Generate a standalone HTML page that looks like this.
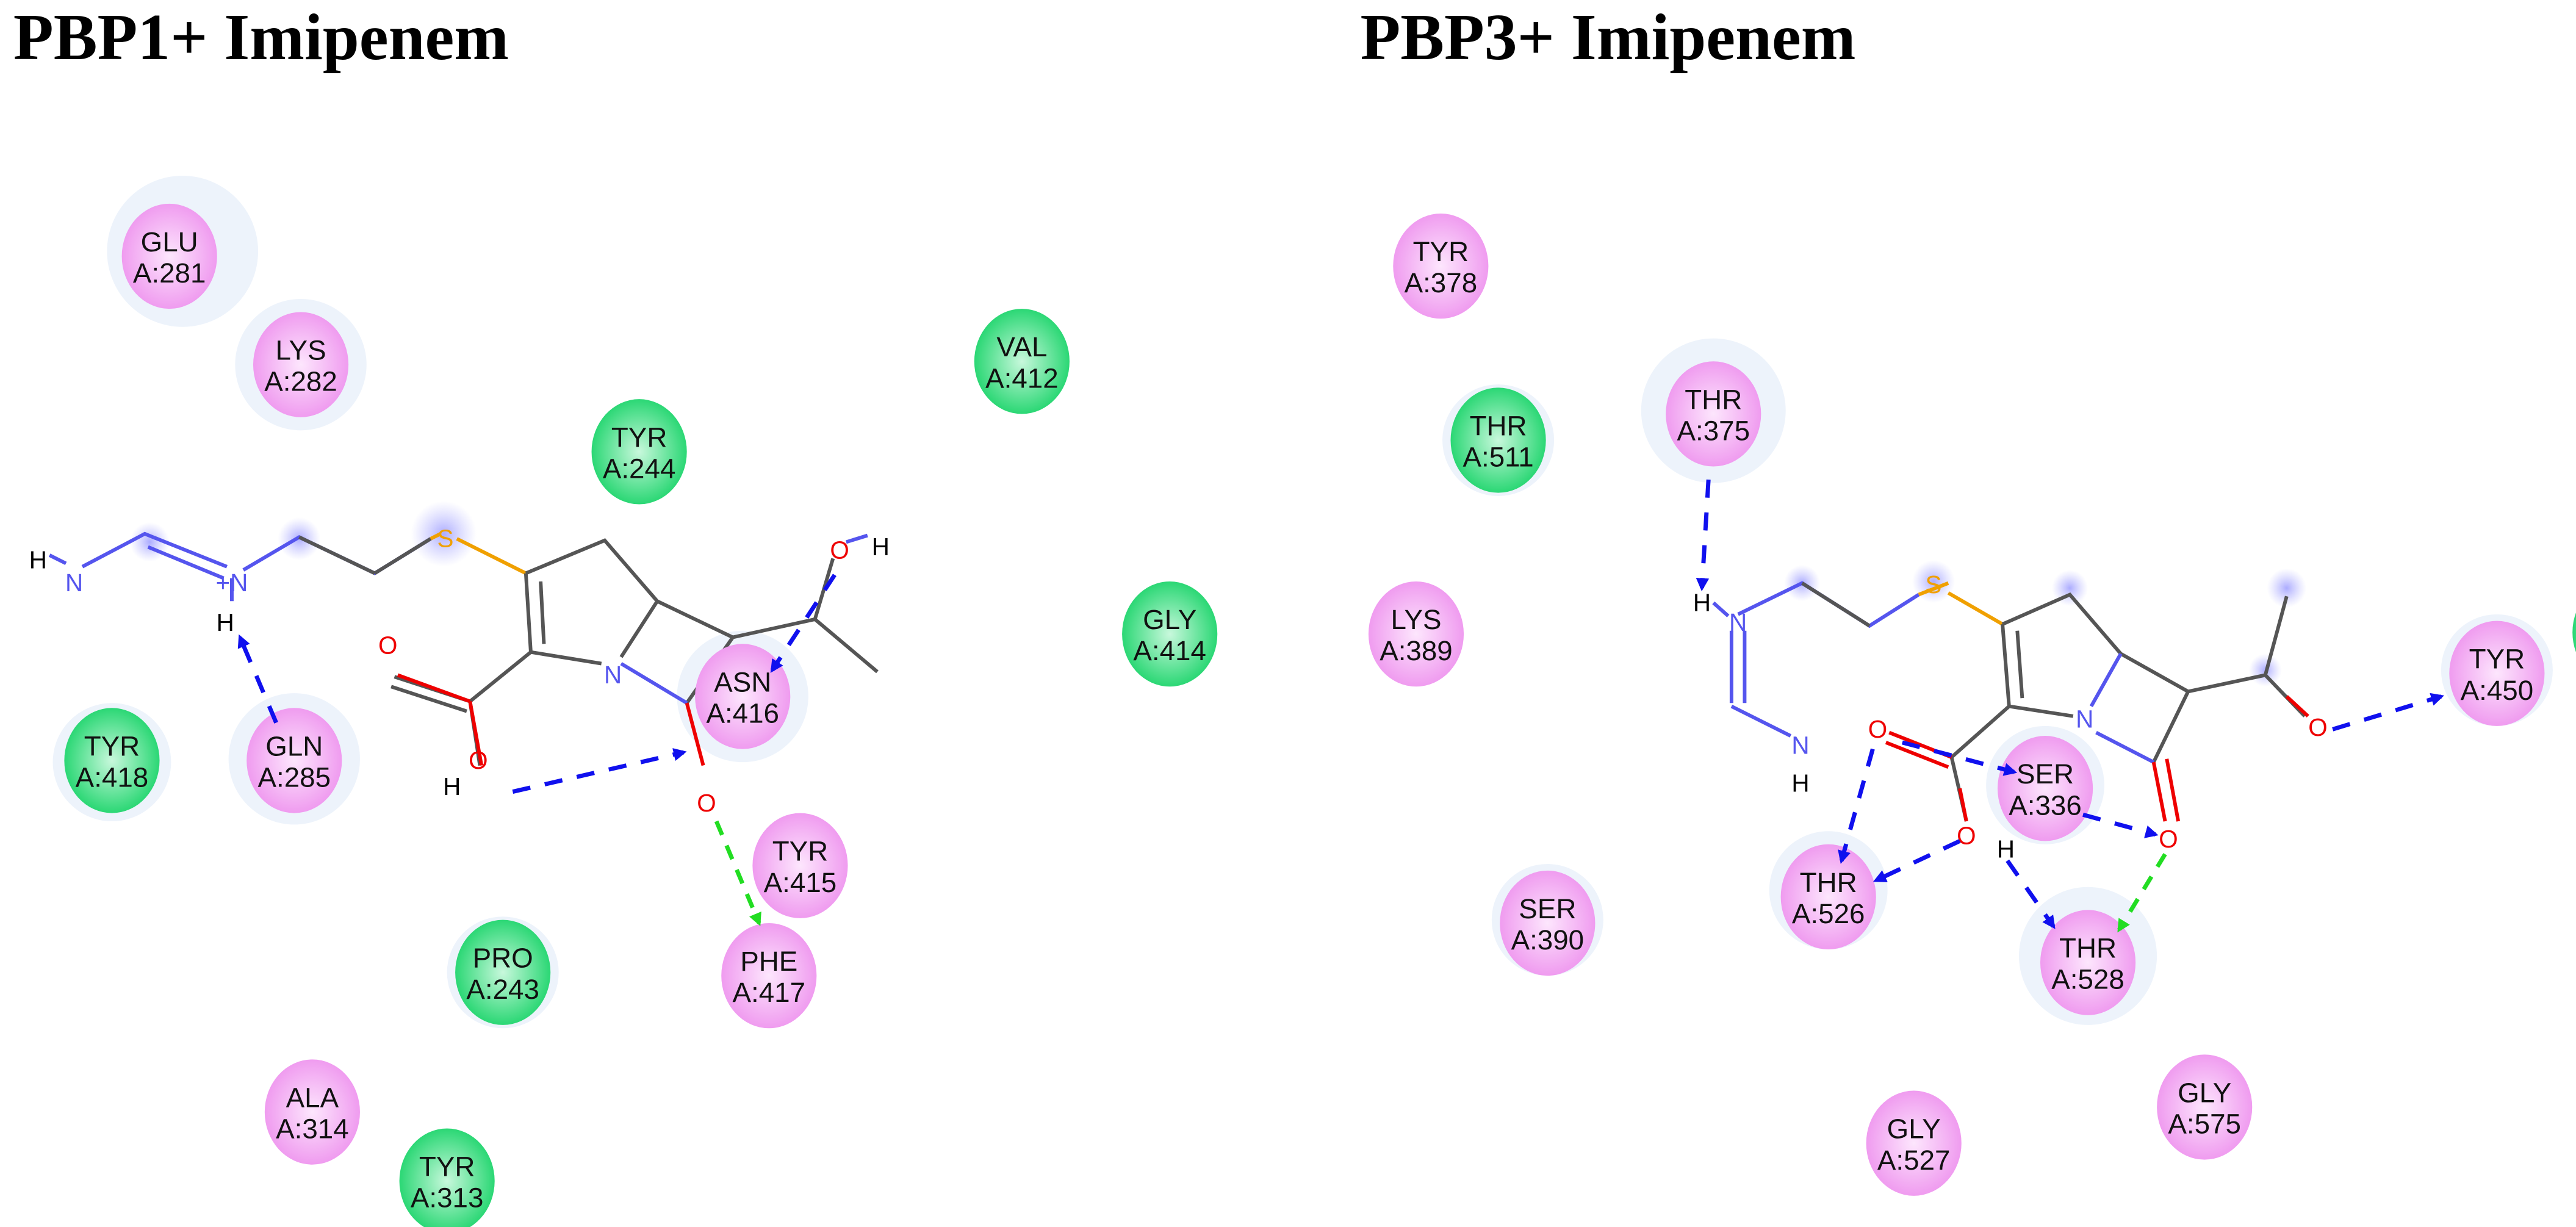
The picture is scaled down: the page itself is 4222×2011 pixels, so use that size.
<!DOCTYPE html>
<html><head><meta charset="utf-8"><style>
html,body{margin:0;padding:0;background:#fff;}
svg{display:block}
.t{font-family:"Liberation Serif",serif;font-weight:bold;font-size:40px;fill:#000}
.r{font-family:"Liberation Sans",sans-serif;font-size:17px;fill:#111;text-anchor:middle}
.a{font-family:"Liberation Sans",sans-serif;font-size:15px;text-anchor:middle}
.b{stroke:#555;stroke-width:2.2;fill:none}
.hb{stroke:#1010ee;stroke-width:2.6;stroke-dasharray:11 9;fill:none}
.gb{stroke:#22dd22;stroke-width:2.6;stroke-dasharray:9 7;fill:none}
</style></head><body>
<svg width="4222" height="2011" viewBox="0 0 1568 747" xmlns="http://www.w3.org/2000/svg">
<defs>
<radialGradient id="p" cx="50%" cy="50%" r="55%"><stop offset="0" stop-color="#fde6fd"/><stop offset="1" stop-color="#ee94ee"/></radialGradient>
<radialGradient id="g" cx="50%" cy="50%" r="55%"><stop offset="0" stop-color="#c8f8dc"/><stop offset="1" stop-color="#1bd46a"/></radialGradient>
<radialGradient id="h" cx="50%" cy="50%" r="50%"><stop offset="0" stop-color="#8888ff" stop-opacity=".7"/><stop offset="1" stop-color="#aaaaff" stop-opacity="0"/></radialGradient>
<marker id="ab" markerWidth="8" markerHeight="8" refX="6" refY="4" orient="auto" markerUnits="userSpaceOnUse"><path d="M0,0L8,4L0,8z" fill="#1010ee"/></marker>
<marker id="ag" markerWidth="8" markerHeight="8" refX="6" refY="4" orient="auto" markerUnits="userSpaceOnUse"><path d="M0,0L8,4L0,8z" fill="#22dd22"/></marker>
</defs>
<text class="t" x="8" y="36">PBP1+ Imipenem</text>
<text class="t" x="828" y="36">PBP3+ Imipenem</text>

<g fill="#edf3fb">
<circle cx="111" cy="153" r="46"/><circle cx="183" cy="222" r="40"/>
<circle cx="179" cy="462" r="40"/><circle cx="452" cy="424" r="40"/><circle cx="68" cy="464" r="36"/>
<circle cx="306" cy="592" r="34"/>
<circle cx="1043" cy="250" r="44"/><circle cx="912" cy="268" r="34"/><circle cx="1271" cy="582" r="42"/>
<circle cx="1113" cy="542" r="36"/><circle cx="1245" cy="478" r="36"/><circle cx="942" cy="560" r="34"/><circle cx="1520" cy="408" r="34"/>
</g>
<g fill="url(#h)">
<circle cx="91" cy="330" r="12"/><circle cx="182" cy="328" r="13"/><circle cx="270" cy="325" r="20"/>
<circle cx="1097" cy="355" r="11"/><circle cx="1177" cy="354" r="13"/><circle cx="1260" cy="358" r="11"/><circle cx="1392" cy="358" r="12"/><circle cx="1379" cy="408" r="10"/>
</g>

<g class="b">
<path d="M148,347L182,327L228,349L262,328" stroke="#5555ee"/>
<path d="M182,327L228,349"/>
<path d="M278,328L320,349" stroke="#f0a000"/>
<path d="M262,328L268,325" stroke="#f0a000"/>
<path d="M228,349L262,328"/>
<path d="M320,349L368,329L400,366L446,388L418,428M400,366L378,400M320,349L323,397M329,354L331,392M323,397L366,404M323,397L286,427M286,427L240,412M284,433L238,418M286,427L292,466M446,388L496,377L534,409M496,377L507,340" />
<path d="M378,404L418,428" stroke="#5555ee"/>
<path d="M418,428L428,466" stroke="#e00"/>
<path d="M286,427L293,466" stroke="#e00"/>
<path d="M286,427L242,411" stroke="#e00"/>
<path d="M50,345L88,325L138,345M90,333L136,352M30,338L40,343M141,352L141,366M515,330L528,326" stroke="#5555ee"/>
</g>
<g class="a">
<text x="23" y="346" fill="#000">H</text><text x="45" y="360" fill="#5555ee">N</text>
<text x="141" y="360" fill="#5555ee">+N</text><text x="137" y="384" fill="#000">H</text>
<text x="271" y="333" fill="#f0a000">S</text><text x="373" y="416" fill="#5555ee">N</text>
<text x="236" y="398" fill="#e00">O</text><text x="291" y="468" fill="#e00">O</text><text x="275" y="484" fill="#000">H</text>
<text x="430" y="494" fill="#e00">O</text><text x="511" y="340" fill="#e00">O</text><text x="536" y="338" fill="#000">H</text>
</g>

<g class="b">
<path d="M1058,374L1097,355L1138,381L1168,362" stroke="#5555ee"/>
<path d="M1097,355L1138,381"/>
<path d="M1168,362L1186,355M1186,361L1219,380" stroke="#f0a000"/>
<path d="M1219,380L1260,362L1291,398L1332,421L1311,464M1219,380L1223,430M1228,384L1231,425M1223,430L1262,436M1223,430L1188,461M1188,461L1197,500M1332,421L1379,411L1392,363M1379,411L1403,436"/>
<path d="M1291,398L1273,430M1276,446L1311,464" stroke="#5555ee"/>
<path d="M1188,461L1150,446M1186,467L1148,452M1193,480L1197,500" stroke="#e00"/>
<path d="M1311,464L1318,500M1319,462L1326,500M1392,424L1405,436" stroke="#e00"/>
<path d="M1054,384L1054,428M1062,384L1062,428M1054,430L1090,448M1043,367L1052,375" stroke="#5555ee"/>
</g>
<g class="a">
<text x="1036" y="372" fill="#000">H</text><text x="1058" y="384" fill="#5555ee">N</text>
<text x="1096" y="459" fill="#5555ee">N</text><text x="1096" y="482" fill="#000">H</text>
<text x="1177" y="361" fill="#f0a000">S</text><text x="1269" y="443" fill="#5555ee">N</text>
<text x="1143" y="449" fill="#e00">O</text><text x="1197" y="514" fill="#e00">O</text><text x="1221" y="522" fill="#000">H</text>
<text x="1320" y="516" fill="#e00">O</text><text x="1411" y="448" fill="#e00">O</text>
</g>

<g>
<ellipse cx="103" cy="156" rx="29" ry="32" fill="url(#p)"/>
<ellipse cx="183" cy="222" rx="29" ry="32" fill="url(#p)"/>
<ellipse cx="389" cy="275" rx="29" ry="32" fill="url(#g)"/>
<ellipse cx="622" cy="220" rx="29" ry="32" fill="url(#g)"/>
<ellipse cx="712" cy="386" rx="29" ry="32" fill="url(#g)"/>
<ellipse cx="68" cy="463" rx="29" ry="32" fill="url(#g)"/>
<ellipse cx="179" cy="463" rx="29" ry="32" fill="url(#p)"/>
<ellipse cx="452" cy="424" rx="29" ry="32" fill="url(#p)"/>
<ellipse cx="487" cy="527" rx="29" ry="32" fill="url(#p)"/>
<ellipse cx="468" cy="594" rx="29" ry="32" fill="url(#p)"/>
<ellipse cx="306" cy="592" rx="29" ry="32" fill="url(#g)"/>
<ellipse cx="190" cy="677" rx="29" ry="32" fill="url(#p)"/>
<ellipse cx="272" cy="719" rx="29" ry="32" fill="url(#g)"/>
<ellipse cx="877" cy="162" rx="29" ry="32" fill="url(#p)"/>
<ellipse cx="912" cy="268" rx="29" ry="32" fill="url(#g)"/>
<ellipse cx="1043" cy="252" rx="29" ry="32" fill="url(#p)"/>
<ellipse cx="862" cy="386" rx="29" ry="32" fill="url(#p)"/>
<ellipse cx="1520" cy="410" rx="29" ry="32" fill="url(#p)"/>
<ellipse cx="1245" cy="480" rx="29" ry="32" fill="url(#p)"/>
<ellipse cx="1113" cy="546" rx="29" ry="32" fill="url(#p)"/>
<ellipse cx="1271" cy="586" rx="29" ry="32" fill="url(#p)"/>
<ellipse cx="942" cy="562" rx="29" ry="32" fill="url(#p)"/>
<ellipse cx="1165" cy="696" rx="29" ry="32" fill="url(#p)"/>
<ellipse cx="1342" cy="674" rx="29" ry="32" fill="url(#p)"/>
<ellipse cx="1595" cy="385" rx="29" ry="32" fill="url(#g)"/>
</g>
<g class="r">
<text x="103" y="153">GLU</text><text x="103" y="172">A:281</text>
<text x="183" y="219">LYS</text><text x="183" y="238">A:282</text>
<text x="389" y="272">TYR</text><text x="389" y="291">A:244</text>
<text x="622" y="217">VAL</text><text x="622" y="236">A:412</text>
<text x="712" y="383">GLY</text><text x="712" y="402">A:414</text>
<text x="68" y="460">TYR</text><text x="68" y="479">A:418</text>
<text x="179" y="460">GLN</text><text x="179" y="479">A:285</text>
<text x="452" y="421">ASN</text><text x="452" y="440">A:416</text>
<text x="487" y="524">TYR</text><text x="487" y="543">A:415</text>
<text x="468" y="591">PHE</text><text x="468" y="610">A:417</text>
<text x="306" y="589">PRO</text><text x="306" y="608">A:243</text>
<text x="190" y="674">ALA</text><text x="190" y="693">A:314</text>
<text x="272" y="716">TYR</text><text x="272" y="735">A:313</text>
<text x="877" y="159">TYR</text><text x="877" y="178">A:378</text>
<text x="912" y="265">THR</text><text x="912" y="284">A:511</text>
<text x="1043" y="249">THR</text><text x="1043" y="268">A:375</text>
<text x="862" y="383">LYS</text><text x="862" y="402">A:389</text>
<text x="1520" y="407">TYR</text><text x="1520" y="426">A:450</text>
<text x="1245" y="477">SER</text><text x="1245" y="496">A:336</text>
<text x="1113" y="543">THR</text><text x="1113" y="562">A:526</text>
<text x="1271" y="583">THR</text><text x="1271" y="602">A:528</text>
<text x="942" y="559">SER</text><text x="942" y="578">A:390</text>
<text x="1165" y="693">GLY</text><text x="1165" y="712">A:527</text>
<text x="1342" y="671">GLY</text><text x="1342" y="690">A:575</text>
</g>

<path class="hb" d="M168,440L146,388" marker-end="url(#ab)"/>
<path class="hb" d="M312,482L416,458" marker-end="url(#ab)"/>
<path class="hb" d="M508,350L470,408" marker-end="url(#ab)"/>
<path class="gb" d="M436,500L462,562" marker-end="url(#ag)"/>
<path class="hb" d="M1040,292L1036,358" marker-end="url(#ab)"/>
<path class="hb" d="M1140,456L1121,524" marker-end="url(#ab)"/>
<path class="hb" d="M1158,452L1226,470" marker-end="url(#ab)"/>
<path class="hb" d="M1268,496L1312,508" marker-end="url(#ab)"/>
<path class="hb" d="M1193,512L1142,536" marker-end="url(#ab)"/>
<path class="hb" d="M1222,524L1250,564" marker-end="url(#ab)"/>
<path class="gb" d="M1318,520L1290,566" marker-end="url(#ag)"/>
<path class="hb" d="M1420,444L1486,424" marker-end="url(#ab)"/>
</svg>
</body></html>
